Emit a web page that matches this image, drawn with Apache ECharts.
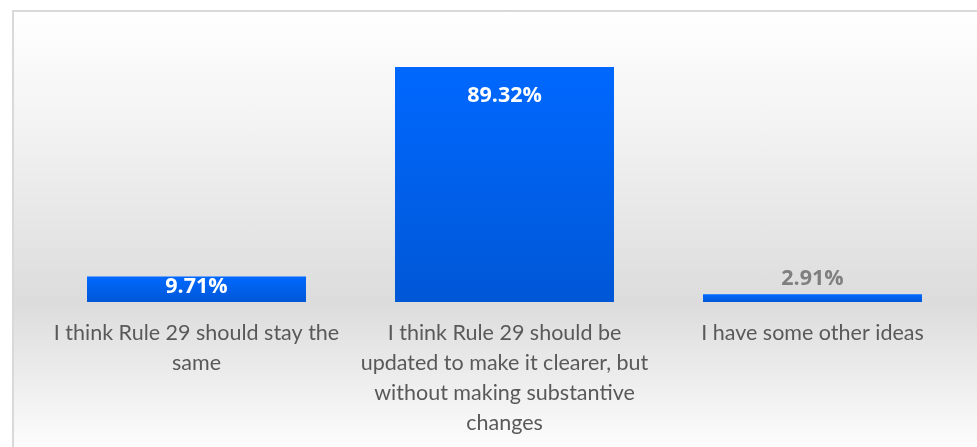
<!DOCTYPE html>
<html lang="en">
	<head>
		<meta charset="utf-8" />
		<title>Rule 29 survey</title>
		<style>
			html, body { margin: 0; padding: 0; background: #fff; }
			#wrap {
				position: absolute;
				left: 12px;
				top: 10px;
				width: 975px;
				height: 447px;
				border: 2px solid #d9d9d9;
				border-right: none;
				border-bottom: none;
				background: linear-gradient(to bottom, #ffffff 0%, #f3f3f3 25%, #dcdcdc 65%, #e6e6e6 75%, #ffffff 100%);
			}
			#ec { width: 975px; height: 437px; }
		</style>
	</head>
	<body>
		<div id="wrap"><div id="ec"></div></div>

		<script src="https://cdn.jsdelivr.net/npm/echarts@6/dist/echarts.min.js"></script>
		<script type="text/javascript">
			const categories = [
				'I think Rule 29 should stay the\nsame',
				'I think Rule 29 should be\nupdated to make it clearer, but\nwithout making substantive\nchanges',
				'I have some other ideas',
			];
			const values = [9.71, 89.32, 2.91];
			// labels inside the bar, except the tiny last one
			const labelInside = [true, true, false];

			const barColor = new echarts.graphic.LinearGradient(0, 0, 0, 1, [
				{ offset: 0, color: '#0068ff' },
				{ offset: 1, color: '#0057d6' },
			]);

			const chart = echarts.init(document.getElementById('ec'));
			chart.setOption({
				animation: false,
				grid: { left: 28.5, right: 22.5, top: 27, bottom: 147 },
				xAxis: {
					type: 'category',
					data: categories,
					axisLine: { show: false },
					axisTick: { show: false },
					axisLabel: {
						interval: 0,
						margin: 16,
						color: '#595959',
						fontFamily: 'Lato',
						fontSize: 21.5,
						lineHeight: 30,
					},
				},
				yAxis: { type: 'value', min: 0, max: 100, show: false, splitLine: { show: false } },
				series: [
					{
						type: 'bar',
						barWidth: '71.1%',
						data: values.map((v, i) => ({
							value: v,
							label: labelInside[i]
								? { position: 'insideTop', distance: i === 1 ? 18 : -1, color: '#ffffff' }
								: { position: 'top', distance: 4, color: '#7f7f7f' },
						})),
						itemStyle: { color: barColor },
						label: {
							show: true,
							fontFamily: 'Open Sans',
							fontWeight: 'bold',
							fontSize: 21.5,
							formatter: (p) => p.value.toFixed(2) + '%',
						},
					},
				],
			});
		</script>
	</body>
</html>
